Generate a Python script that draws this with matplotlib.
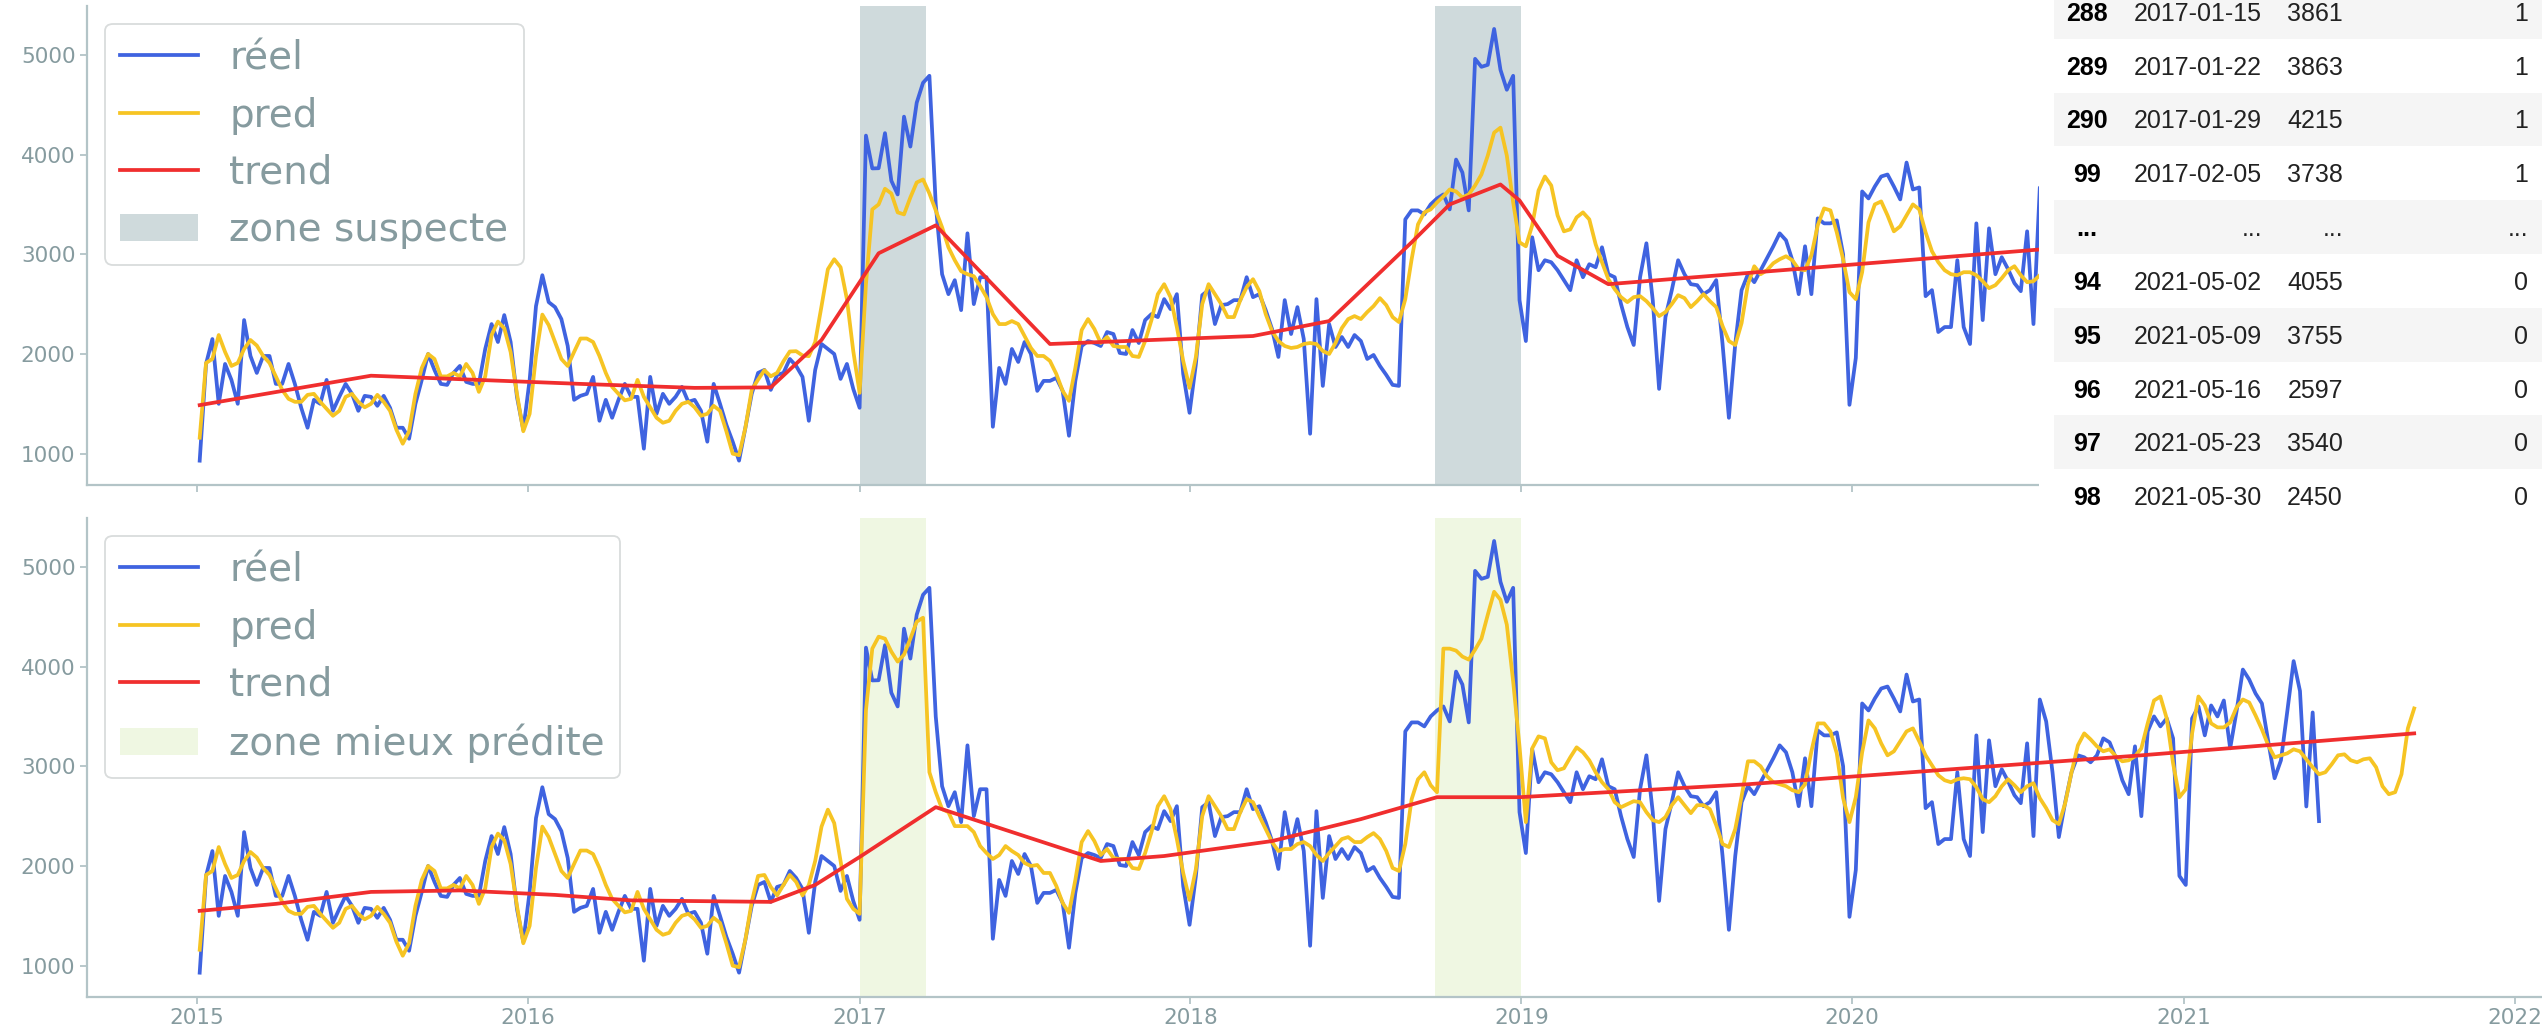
import numpy as np
import pandas as pd
import matplotlib
matplotlib.use("Agg")
import matplotlib.pyplot as plt
import matplotlib.dates as mdates
from matplotlib.patches import Rectangle

# ---------------------------------------------------------------- données
debut = pd.Timestamp("2015-01-04")   # série hebdomadaire (dimanches)

reel = [
    930, 1900, 2150, 1500, 1900, 1740, 1500, 2340, 1980, 1810,
    1980, 1980, 1700, 1700, 1900, 1700, 1460, 1260, 1540, 1500,
    1740, 1430, 1570, 1700, 1600, 1430, 1580, 1570, 1480, 1580,
    1460, 1260, 1260, 1150, 1500, 1740, 2000, 1840, 1700, 1690,
    1810, 1880, 1720, 1700, 1700, 2050, 2300, 2120, 2390, 2120,
    1570, 1240, 1740, 2480, 2790, 2520, 2470, 2350, 2080, 1540,
    1580, 1600, 1770, 1330, 1540, 1360, 1540, 1700, 1570, 1570,
    1050, 1770, 1400, 1600, 1500, 1570, 1670, 1520, 1540, 1430,
    1120, 1700, 1500, 1290, 1120, 930, 1260, 1600, 1810, 1840,
    1640, 1790, 1810, 1950, 1880, 1770, 1330, 1840, 2100, 2050,
    2000, 1750, 1900, 1650, 1460, 4190, 3861, 3863, 4215, 3738,
    3600, 4380, 4080, 4520, 4720, 4790, 3500, 2800, 2600, 2740,
    2440, 3210, 2500, 2770, 2770, 1270, 1860, 1700, 2050, 1920,
    2120, 2000, 1630, 1730, 1730, 1760, 1630, 1180, 1730, 2080,
    2130, 2110, 2080, 2220, 2200, 2010, 2000, 2240, 2110, 2340,
    2400, 2370, 2550, 2450, 2600, 1800, 1410, 1900, 2590, 2640,
    2300, 2490, 2500, 2540, 2540, 2770, 2570, 2600, 2440, 2250,
    1970, 2540, 2200, 2470, 2150, 1200, 2550, 1680, 2300, 2070,
    2170, 2070, 2190, 2130, 1950, 1990, 1880, 1790, 1690, 1680,
    3350, 3440, 3440, 3400, 3500, 3560, 3600, 3450, 3950, 3820,
    3440, 4960, 4880, 4900, 5260, 4850, 4650, 4790, 2540, 2130,
    3170, 2840, 2940, 2920, 2840, 2740, 2640, 2940, 2770, 2900,
    2870, 3070, 2800, 2770, 2500, 2270, 2090, 2770, 3110, 2540,
    1650, 2370, 2640, 2940, 2800, 2700, 2690, 2600, 2640, 2740,
    2100, 1360, 2100, 2640, 2800, 2720, 2840, 2960, 3080, 3210,
    3140, 2940, 2600, 3080, 2600, 3360, 3310, 3310, 3340, 3000,
    1490, 1960, 3630, 3560, 3680, 3780, 3800, 3680, 3550, 3920,
    3650, 3670, 2580, 2640, 2220, 2270, 2270, 2940, 2270, 2100,
    3310, 2340, 3260, 2800, 2970, 2850, 2710, 2630, 3230, 2300,
    3670, 3450, 2940, 2290, 2640, 2940, 3110, 3090, 3040, 3110,
    3280, 3240, 3080, 2860, 2720, 3200, 2500, 3350, 3500, 3400,
    3480, 3280, 1900, 1810, 3480, 3600, 3310, 3610, 3500, 3660,
    3180, 3550, 3970, 3870, 3730, 3630, 3250, 2880, 3060, 3550,
    4055, 3755, 2597, 3540, 2450,
]

pred_haut = [
    1160, 1910, 1950, 2190, 2020, 1880, 1910, 2050, 2140, 2085,
    1980, 1910, 1775, 1640, 1550, 1520, 1520, 1590, 1600, 1520,
    1450, 1380, 1430, 1570, 1600, 1520, 1465, 1500, 1590, 1520,
    1430, 1240, 1100, 1225, 1600, 1860, 2000, 1950, 1775, 1775,
    1810, 1775, 1900, 1810, 1620, 1775, 2190, 2325, 2257, 2020,
    1600, 1225, 1400, 1980, 2395, 2290, 2120, 1950, 1880, 2020,
    2155, 2155, 2120, 1980, 1810, 1670, 1600, 1535, 1550, 1740,
    1570, 1465, 1360, 1310, 1330, 1430, 1500, 1520, 1465, 1380,
    1400, 1480, 1430, 1225, 1000, 985, 1260, 1640, 1743, 1837,
    1776, 1810, 1927, 2025, 2028, 1985, 1978, 2120, 2480, 2850,
    2950, 2870, 2550, 2030, 1610, 2700, 3450, 3500, 3657, 3610,
    3420, 3400, 3570, 3720, 3750, 3610, 3440, 3270, 3070, 2940,
    2830, 2800, 2780, 2680, 2570, 2400, 2300, 2300, 2330, 2300,
    2180, 2060, 1980, 1980, 1930, 1800, 1630, 1530, 1860, 2240,
    2350, 2250, 2110, 2170, 2080, 2070, 2070, 1980, 1970, 2130,
    2340, 2600, 2700, 2570, 2270, 1930, 1660, 1970, 2500, 2700,
    2600, 2500, 2370, 2370, 2540, 2670, 2750, 2630, 2400, 2230,
    2130, 2080, 2060, 2070, 2100, 2110, 2100, 2030, 2000, 2110,
    2260, 2350, 2380, 2350, 2420, 2480, 2560, 2490, 2370, 2320,
    2550, 2950, 3300, 3420, 3450, 3520, 3580, 3650, 3630, 3570,
    3600, 3690, 3800, 3990, 4220, 4270, 3990, 3520, 3120, 3080,
    3290, 3640, 3780, 3690, 3390, 3230, 3250, 3370, 3420, 3350,
    3100, 2920, 2750, 2650, 2570, 2520, 2570, 2580, 2530, 2460,
    2380, 2420, 2500, 2590, 2560, 2470, 2530, 2600, 2530, 2470,
    2280, 2130, 2090, 2310, 2700, 2880, 2800, 2840, 2910, 2950,
    2980, 2940, 2850, 2840, 2990, 3290, 3460, 3440, 3220, 2950,
    2620, 2550, 2820, 3320, 3500, 3530, 3390, 3230, 3280, 3390,
    3500, 3450, 3220, 3030, 2920, 2840, 2800, 2790, 2820, 2820,
    2790, 2730, 2660, 2690, 2760, 2840, 2880, 2790, 2720, 2730,
    2790,
]

pred_bas = [
    1160, 1910, 1950, 2190, 2020, 1880, 1910, 2050, 2140, 2085,
    1980, 1910, 1775, 1640, 1550, 1520, 1520, 1590, 1600, 1520,
    1450, 1380, 1430, 1570, 1600, 1520, 1465, 1500, 1590, 1520,
    1430, 1240, 1100, 1225, 1600, 1860, 2000, 1950, 1775, 1775,
    1810, 1775, 1900, 1810, 1620, 1775, 2190, 2325, 2257, 2020,
    1600, 1225, 1400, 1980, 2395, 2290, 2120, 1950, 1880, 2020,
    2155, 2155, 2120, 1980, 1810, 1670, 1600, 1535, 1550, 1740,
    1570, 1465, 1360, 1310, 1330, 1430, 1500, 1520, 1465, 1380,
    1400, 1480, 1430, 1225, 1000, 985, 1260, 1640, 1900, 1910,
    1790, 1705, 1810, 1910, 1840, 1705, 1810, 2050, 2395, 2565,
    2430, 2050, 1670, 1570, 1520, 3560, 4180, 4300, 4280, 4150,
    4050, 4120, 4280, 4450, 4490, 2940, 2740, 2570, 2540, 2400,
    2400, 2400, 2340, 2200, 2130, 2070, 2110, 2200, 2150, 2110,
    2030, 2000, 2010, 1930, 1930, 1800, 1630, 1530, 1860, 2240,
    2350, 2250, 2110, 2170, 2080, 2070, 2070, 1980, 1970, 2130,
    2340, 2600, 2700, 2570, 2270, 1930, 1660, 1970, 2500, 2700,
    2600, 2500, 2370, 2370, 2540, 2670, 2640, 2500, 2370, 2240,
    2150, 2170, 2170, 2220, 2240, 2200, 2110, 2050, 2130, 2200,
    2270, 2290, 2240, 2240, 2290, 2330, 2270, 2150, 1980, 1950,
    2220, 2670, 2870, 2940, 2810, 2740, 4180, 4180, 4160, 4100,
    4070, 4170, 4280, 4520, 4750, 4670, 4420, 3850, 3200, 2440,
    3180, 3300, 3280, 3040, 2960, 2980, 3090, 3190, 3140, 3060,
    2940, 2840, 2770, 2640, 2590, 2620, 2650, 2640, 2540, 2460,
    2440, 2490, 2610, 2690, 2610, 2530, 2610, 2610, 2570, 2410,
    2220, 2190, 2370, 2700, 3050, 3050, 3000, 2900, 2840, 2820,
    2800, 2760, 2740, 2820, 3150, 3430, 3430, 3350, 3130, 2680,
    2440, 2690, 3140, 3460, 3380, 3230, 3110, 3150, 3250, 3350,
    3380, 3250, 3110, 3010, 2910, 2860, 2840, 2870, 2880, 2870,
    2790, 2670, 2640, 2700, 2800, 2870, 2810, 2740, 2800, 2830,
    2680, 2580, 2460, 2420, 2630, 2940, 3210, 3330, 3270, 3200,
    3150, 3170, 3100, 3050, 3060, 3100, 3180, 3430, 3660, 3700,
    3480, 3030, 2690, 2770, 3330, 3700, 3610, 3430, 3390, 3390,
    3440, 3590, 3670, 3640, 3510, 3370, 3210, 3090, 3110, 3130,
    3170, 3150, 3070, 2990, 2920, 2940, 3020, 3110, 3120, 3060,
    3040, 3070, 3080, 2990, 2800, 2720, 2740, 2920, 3380, 3580,
]

# tendance : points de rupture (semaines depuis le début, valeur)
trend_haut_sem = [0, 27, 60, 78, 90, 98, 107, 116, 134, 166, 178, 191,
                  197, 205, 208, 214, 222, 349]
trend_haut_val = [1487, 1782, 1700, 1660, 1665, 2140, 3010, 3290, 2100,
                  2180, 2330, 3120, 3500, 3700, 3540, 2985, 2700, 3350]
trend_bas_sem = [0, 12, 27, 41, 56, 68, 90, 97, 104, 116, 142, 152, 169,
                 183, 195, 208, 244, 306, 349]
trend_bas_val = [1550, 1620, 1740, 1755, 1710, 1655, 1640, 1810, 2090,
                 2590, 2050, 2100, 2250, 2470, 2690, 2690, 2820, 3110, 3330]

zones = [("2017-01-01", "2017-03-15"), ("2018-09-28", "2019-01-01")]

# extrait du DataFrame affiché à droite
table_index = ["288", "289", "290", "99", "...", "94", "95", "96", "97", "98"]
table_dates = ["2017-01-15", "2017-01-22", "2017-01-29", "2017-02-05", "...",
               "2021-05-02", "2021-05-09", "2021-05-16", "2021-05-23", "2021-05-30"]
table_valeurs = ["3861", "3863", "4215", "3738", "...",
                 "4055", "3755", "2597", "3540", "2450"]
table_zone = ["1", "1", "1", "1", "...", "0", "0", "0", "0", "0"]

# ---------------------------------------------------------------- style
C_REEL = "#3f63e0"
C_PRED = "#f6c423"
C_TREND = "#f02e2e"
C_SUSPECT = "#cfdadc"
C_MIEUX = "#eff7e2"
C_TEXTE = "#869b9f"
C_AXE = "#b3c4c7"
LW = 2.7


def semaines(n):
    return debut + pd.to_timedelta(np.arange(n) * 7, unit="D")


def ruptures(sem):
    return debut + pd.to_timedelta(np.array(sem) * 7, unit="D")


fig = plt.figure(figsize=(25.42, 10.35), dpi=100)
ax_h = fig.add_axes([0.03434, 0.5318, 0.96566, 0.4624])
ax_b = fig.add_axes([0.03434, 0.0371, 0.96566, 0.4624], sharex=ax_h)

panneaux = [
    (ax_h, pred_haut, trend_haut_sem, trend_haut_val, C_SUSPECT, "zone suspecte"),
    (ax_b, pred_bas, trend_bas_sem, trend_bas_val, C_MIEUX, "zone mieux prédite"),
]

for ax, pred, t_sem, t_val, c_zone, lab_zone in panneaux:
    ax.plot(semaines(len(reel)), reel, color=C_REEL, lw=LW, label="réel", zorder=3)
    ax.plot(semaines(len(pred)), pred, color=C_PRED, lw=LW, label="pred", zorder=4)
    ax.plot(ruptures(t_sem), t_val, color=C_TREND, lw=LW, label="trend", zorder=5)
    for k, (d0, d1) in enumerate(zones):
        ax.axvspan(pd.Timestamp(d0), pd.Timestamp(d1), color=c_zone, lw=0,
                   zorder=1, label=lab_zone if k == 0 else None)

    for s in ("top", "right"):
        ax.spines[s].set_visible(False)
    for s in ("left", "bottom"):
        ax.spines[s].set_color(C_AXE)
        ax.spines[s].set_linewidth(1.6)
    ax.tick_params(colors=C_AXE, labelcolor=C_TEXTE, labelsize=15.5,
                   length=5, width=1.3)
    ax.set_yticks([1000, 2000, 3000, 4000, 5000])
    ax.set_ylim(690, 5490)
    leg = ax.legend(loc="upper left", fontsize=28, labelcolor=C_TEXTE,
                    borderaxespad=0.45, handlelength=2.0, framealpha=1.0)
    leg.get_frame().set_edgecolor("#d9dcdc")
    leg.get_frame().set_linewidth(1.3)

ax_b.set_xlim(pd.Timestamp("2014-09-02"), pd.Timestamp("2022-01-31"))
ax_b.xaxis.set_major_locator(mdates.YearLocator())
ax_b.xaxis.set_major_formatter(mdates.DateFormatter("%Y"))
ax_h.tick_params(labelbottom=False)

# ---------------------------------------------------------------- tableau
X0, X1, Y1 = 2039, 2542, 523
ax_t = fig.add_axes([X0 / 2542, 1 - Y1 / 1035, (X1 - X0) / 2542, Y1 / 1035],
                    zorder=10)
ax_t.set_xlim(X0, X1)
ax_t.set_ylim(Y1, 0)
ax_t.axis("off")
ax_t.add_patch(Rectangle((X0, 0), X1 - X0, Y1, facecolor="white",
                         edgecolor="none"))
h_ligne = 53.8
police = ["Liberation Sans", "DejaVu Sans"]
for k in range(len(table_index)):
    haut = -15 + h_ligne * k
    if k % 2 == 0:
        ax_t.add_patch(Rectangle((2054, haut), X1 - 2054, h_ligne,
                                 facecolor="#f5f5f5", edgecolor="none"))
    yb = haut + h_ligne / 2 + 9
    ax_t.text(2087, yb, table_index[k], ha="center", va="baseline",
              fontsize=18, fontweight="bold", color="black", family=police)
    ax_t.text(2262, yb, table_dates[k], ha="right", va="baseline",
              fontsize=18, color="#222222", family=police)
    ax_t.text(2343, yb, table_valeurs[k], ha="right", va="baseline",
              fontsize=18, color="#222222", family=police)
    ax_t.text(2528, yb, table_zone[k], ha="right", va="baseline",
              fontsize=18, color="#222222", family=police)

fig.savefig("out.png", dpi=100, facecolor="white")
